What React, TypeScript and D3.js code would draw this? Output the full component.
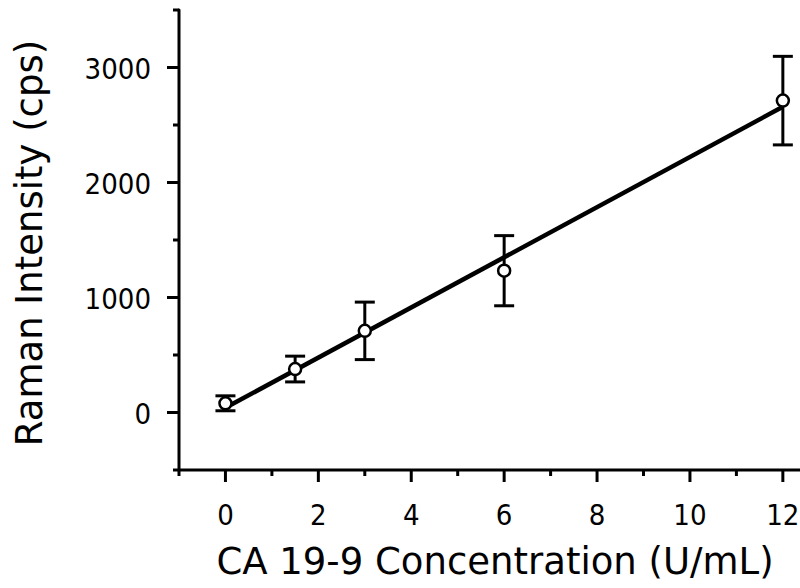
import React from "react";
import * as d3 from "d3";

const concentrations = [0, 1.5, 3, 6, 12];
const intensities = [80, 378, 710, 1233, 2712];
const errors = [65, 112, 250, 305, 385];
const xTicks = [0, 2, 4, 6, 8, 10, 12];
const xMinorTicks = [-1, 1, 3, 5, 7, 9, 11];
const yTicks = [0, 1000, 2000, 3000];
const yMinorTicks = [-500, 500, 1500, 2500, 3500];

const W = 800;
const H = 588;

export default function App() {
  const x = d3.scaleLinear().domain([-1, 13]).range([179, 179 + 14 * 46.45]);
  const y = d3.scaleLinear().domain([-500, 3500]).range([470, 10]);

  // least-squares fit of the data
  const mx = d3.mean(concentrations)!;
  const my = d3.mean(intensities)!;
  let sxy = 0, sxx = 0;
  concentrations.forEach((c, i) => {
    sxy += (c - mx) * (intensities[i] - my);
    sxx += (c - mx) * (c - mx);
  });
  const slope = sxy / sxx;
  const intercept = my - slope * mx;
  const fitLine = d3.line<number>().x((c) => x(c)).y((c) => y(intercept + slope * c));
  const fitDomain = [0, 12];

  const font = "DejaVu Sans, Verdana, sans-serif";
  const tickFont = "'DejaVu Sans Condensed', 'DejaVu Sans', sans-serif";
  const x0 = x(-1);
  const yBase = y(-500);

  return (
    <svg width={W} height={H} style={{ position: "absolute", left: 0, top: 0, background: "#fff" }}>
      {/* axes */}
      <line x1={x0} x2={W} y1={yBase} y2={yBase} stroke="#000" strokeWidth={3} />
      <line x1={x0} x2={x0} y1={y(3500)} y2={yBase} stroke="#000" strokeWidth={3} strokeLinecap="round" />
      {xTicks.map((t) => (
        <g key={"xt" + t}>
          <line x1={x(t)} x2={x(t)} y1={yBase} y2={yBase + 12} stroke="#000" strokeWidth={3} />
          <text x={x(t)} y={yBase + 55} textAnchor="middle" fontFamily={tickFont} fontStretch="condensed" fontSize={29}>
            {t}
          </text>
        </g>
      ))}
      {xMinorTicks.map((t) => (
        <line key={"xm" + t} x1={x(t)} x2={x(t)} y1={yBase} y2={yBase + 6} stroke="#000" strokeWidth={3} />
      ))}
      {yTicks.map((t) => (
        <g key={"yt" + t}>
          <line x1={x0 - 12} x2={x0} y1={y(t)} y2={y(t)} stroke="#000" strokeWidth={3} />
          <text x={x0 - 28} y={y(t) + 11} textAnchor="end" fontFamily={tickFont} fontStretch="condensed" fontSize={29}>
            {t}
          </text>
        </g>
      ))}
      {yMinorTicks.map((t) => (
        <line key={"ym" + t} x1={x0 - 6} x2={x0} y1={y(t)} y2={y(t)} stroke="#000" strokeWidth={3} />
      ))}

      {/* fit line */}
      <path d={fitLine(fitDomain)!} fill="none" stroke="#000" strokeWidth={4.5} />

      {/* error bars */}
      {concentrations.map((c, i) => (
        <g key={"e" + i} stroke="#000" strokeWidth={3}>
          <line x1={x(c)} x2={x(c)} y1={y(intensities[i] - errors[i])} y2={y(intensities[i] + errors[i])} />
          <line x1={x(c) - 10} x2={x(c) + 10} y1={y(intensities[i] - errors[i])} y2={y(intensities[i] - errors[i])} />
          <line x1={x(c) - 10} x2={x(c) + 10} y1={y(intensities[i] + errors[i])} y2={y(intensities[i] + errors[i])} />
        </g>
      ))}
      {/* points */}
      {concentrations.map((c, i) => (
        <circle key={"p" + i} cx={x(c)} cy={y(intensities[i])} r={6} fill="#fff" stroke="#000" strokeWidth={2.5} />
      ))}

      {/* titles */}
      <text x={495} y={574} textAnchor="middle" fontFamily={font} fontSize={37}>
        CA 19-9 Concentration (U/mL)
      </text>
      <text
        transform={`translate(42, ${243}) rotate(-90)`}
        textAnchor="middle"
        fontFamily={font}
        fontSize={37}
      >
        Raman Intensity (cps)
      </text>
    </svg>
  );
}
